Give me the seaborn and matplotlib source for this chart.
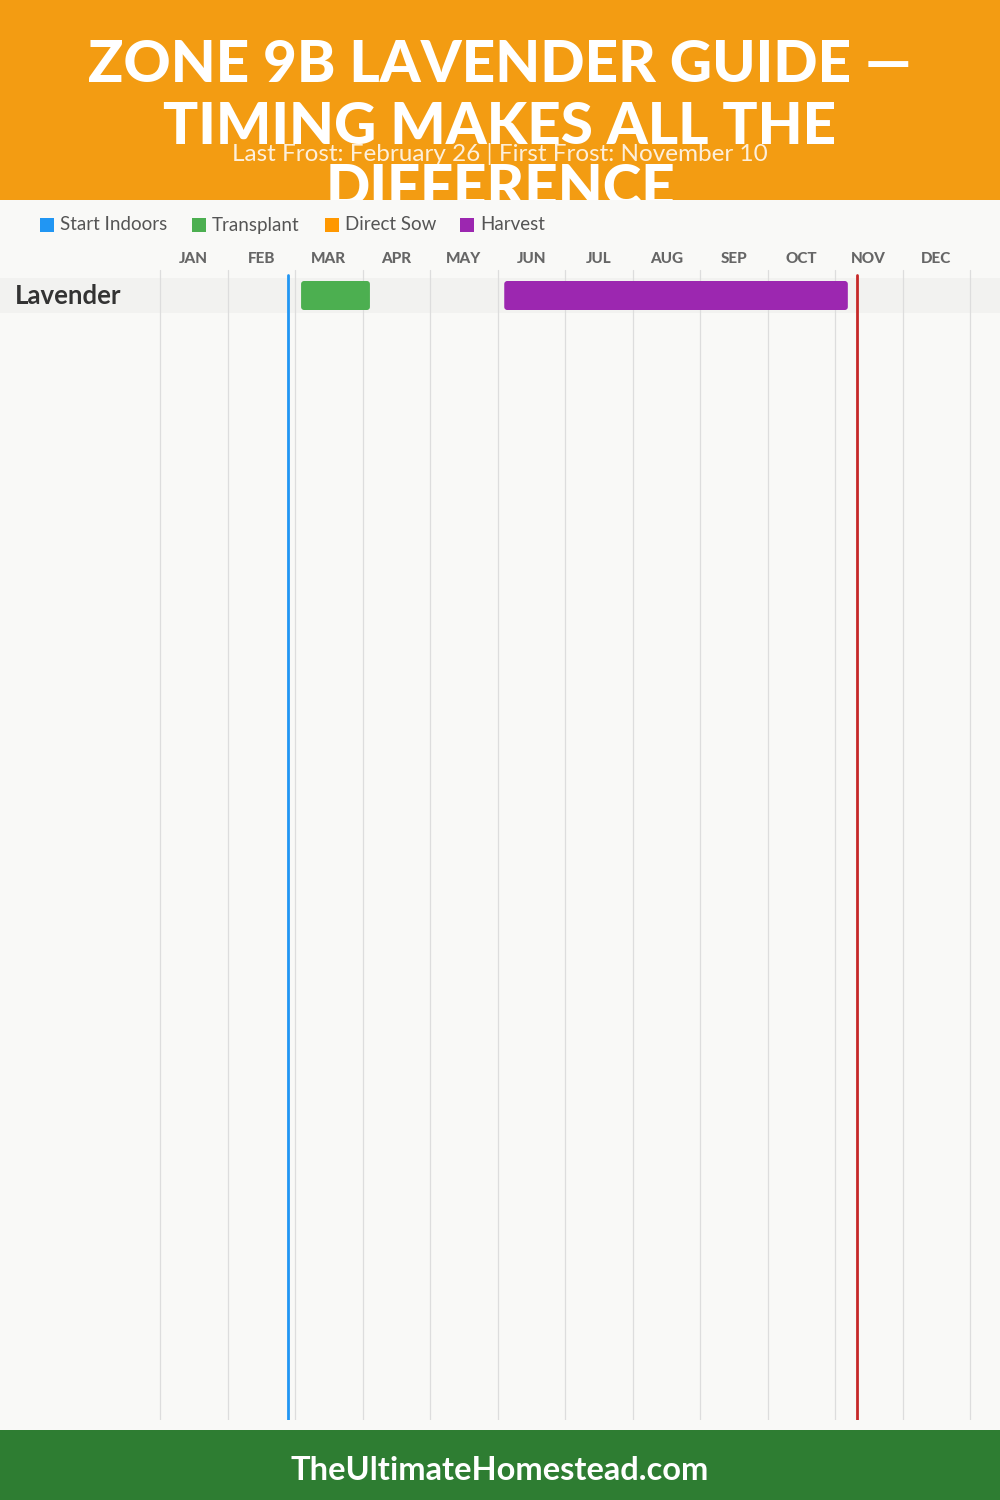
import matplotlib
matplotlib.use("Agg")
import matplotlib.pyplot as plt
from matplotlib.patches import Rectangle, FancyBboxPatch
import seaborn as sns

# Data
months = ["JAN", "FEB", "MAR", "APR", "MAY", "JUN", "JUL", "AUG", "SEP", "OCT", "NOV", "DEC"]
crops = ["Lavender"]
stages = ["Start Indoors", "Transplant", "Direct Sow", "Harvest"]
stage_colors = ["#2196F3", "#4CAF50", "#FF9800", "#9C27B0"]
# (crop, stage, start month position, end month position), 0 = Jan 1
bar_crop = ["Lavender", "Lavender"]
bar_stage = ["Transplant", "Harvest"]
bar_start = [2.09, 5.10]
bar_end = [3.11, 10.19]
last_frost = 1.89   # February 26
first_frost = 10.33  # November 10

title_lines = ["ZONE 9B LAVENDER GUIDE —", "TIMING MAKES ALL THE", "DIFFERENCE"]
subtitle = "Last Frost: February 26 | First Frost: November 10"
footer = "TheUltimateHomestead.com"

sns.set_theme(style="white")
plt.rcParams["font.family"] = ["Lato", "DejaVu Sans"]

W, H = 1000, 1500
BG = "#F9F9F7"
fig = plt.figure(figsize=(10, 15), dpi=100, facecolor=BG)


def fx(x):
    return x / W


def fy(y):
    return 1 - y / H


def frect(x0, y0, x1, y1, color, z):
    r = Rectangle((fx(x0), fy(y1)), fx(x1 - x0), (y1 - y0) / H,
                  transform=fig.transFigure, facecolor=color, edgecolor="none", zorder=z)
    fig.add_artist(r)


# header + title (cut off by the chart background below)
frect(0, 0, W, 200, "#F39C12", 0.5)
for i, line in enumerate(title_lines):
    fig.text(0.5, fy(65 + 62 * i), line, ha="center", va="center", color="white",
             fontsize=42, fontweight="black", zorder=1)
frect(0, 200, W, 1430, BG, 2)
fig.text(0.5, fy(154), subtitle, ha="center", va="center", color="white", alpha=0.85,
         fontsize=17.5, zorder=4)

# legend
leg_x = [40, 192, 325, 460]
for lx, name, col in zip(leg_x, stages, stage_colors):
    frect(lx, 218, lx + 14, 232, col, 4)
    fig.text(fx(lx + 20), fy(225), name, ha="left", va="center", color="#555555",
             fontsize=13.5, zorder=4)

# footer
frect(0, 1430, W, H, "#2E7D32", 4)
fig.text(0.5, fy(1471), footer, ha="center", va="center", color="white",
         fontsize=23.5, fontweight="bold", zorder=5)

# chart axes: full width, x in months, y in pixels
x0_px, mw = 160, 67.5
ax = fig.add_axes([0, fy(1420), 1, (1420 - 240) / H], zorder=3)
ax.set_facecolor("none")
ax.set_xlim(-x0_px / mw, (W - x0_px) / mw)
ax.set_ylim(1420, 240)
ax.axis("off")

# month labels and grid
for i, m in enumerate(months):
    ax.text(i + 0.5, 259, m, ha="center", va="center", fontsize=11, fontweight="black",
            color="#666666")
for i in range(len(months) + 1):
    ax.plot([i, i], [270, 1420], color="#DDDDDD", lw=0.9, zorder=1)

# crop rows
row_top, row_h = 278, 35
xl = ax.get_xlim()
for r, crop in enumerate(crops):
    y0 = row_top + r * row_h
    ax.add_patch(Rectangle((xl[0], y0), xl[1] - xl[0], row_h,
                           facecolor="#F2F2F0", edgecolor="none", zorder=0.5))
    ax.text(xl[0] + 15 / mw, y0 + row_h / 2, crop, ha="left", va="center",
            fontsize=18.5, fontweight="bold", color="#333333")
    for c, s, a, b in zip(bar_crop, bar_stage, bar_start, bar_end):
        if c != crop:
            continue
        col = stage_colors[stages.index(s)]
        ax.add_patch(FancyBboxPatch((a, y0 + 3), b - a, row_h - 6,
                                    boxstyle="round,pad=0,rounding_size=0.045",
                                    mutation_aspect=mw, facecolor=col, edgecolor="none",
                                    zorder=3))

# frost lines
ax.plot([last_frost, last_frost], [275, 1420], color="#2196F3", lw=2, zorder=4)
ax.plot([first_frost, first_frost], [275, 1420], color="#C62828", lw=2, zorder=4)

fig.savefig("out.png", dpi=100, facecolor=BG)
